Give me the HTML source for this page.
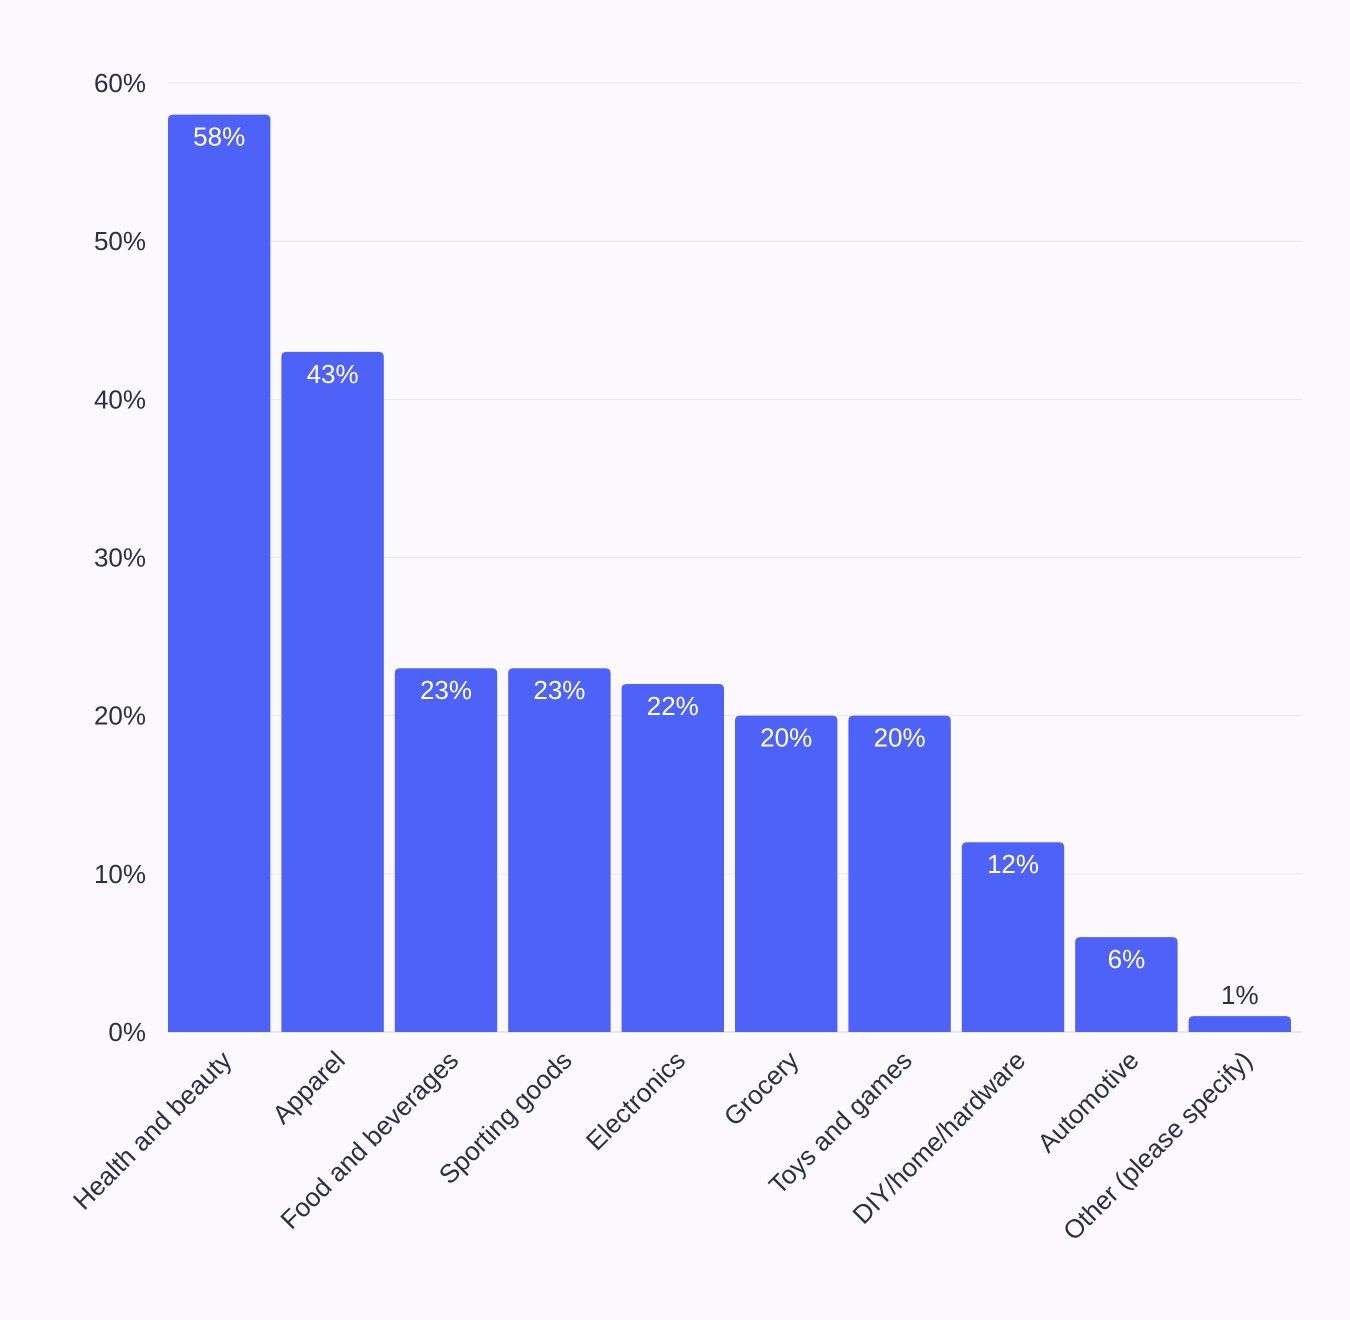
<!DOCTYPE html>
<html><head><meta charset="utf-8"><style>
html,body{margin:0;padding:0;background:#fbf8fe;}
svg{display:block;font-family:"Liberation Sans",sans-serif;}
</style></head><body>
<svg id="chart" width="1350" height="1320" viewBox="0 0 1350 1320">
<rect width="1350" height="1320" fill="#fbf8fe"/>
<g id="grid"></g><g id="bars"></g><g id="labels"></g>
</svg>
<script>
const categories = ["Health and beauty","Apparel","Food and beverages","Sporting goods","Electronics","Grocery","Toys and games","DIY/home/hardware","Automotive","Other (please specify)"];
const values = [58,43,23,23,22,20,20,12,6,1];
const valueLabels = ["58%","43%","23%","23%","22%","20%","20%","12%","6%","1%"];
const ticks = [0,10,20,30,40,50,60];
const tickLabels = ["0%","10%","20%","30%","40%","50%","60%"];

const NS="http://www.w3.org/2000/svg";
const x0=168,x1=1302,yBase=1032,yTop=83,maxV=60;
const y=v=>yBase-(v/maxV)*(yBase-yTop);
const slot=(x1-x0)/categories.length, gap=11, bw=slot-gap;
const xs=i=>x0+i*slot+gap/2-5.5+ (i===0?0:0);
function mk(t,a,p){const e=document.createElementNS(NS,t);for(const k in a)e.setAttribute(k,a[k]);p.appendChild(e);return e;}
const grid=document.getElementById('grid'),bars=document.getElementById('bars'),labels=document.getElementById('labels');
ticks.forEach((t,i)=>{
  const l=mk('line',{x1:x0,x2:x1,y1:y(t),y2:y(t),stroke:t===0?'#d8d6e6':'#e9e6f0','stroke-width':1},grid);
  
  
  const tx=mk('text',{x:146,y:y(t)+9,'text-anchor':'end','font-size':26,fill:'#2b2f45'},grid);
  tx.textContent=tickLabels[i];
  
  
});
categories.forEach((c,i)=>{
  const bx=x0+i*slot, top=y(values[i]), h=yBase-top, r=5;
  const p=mk('path',{d:`M${bx},${yBase}V${top+r}Q${bx},${top} ${bx+r},${top}H${bx+bw-r}Q${bx+bw},${top} ${bx+bw},${top+r}V${yBase}Z`,fill:'#4f62f7'},bars);
  
  
  const cx=bx+bw/2;
  const inside=h>40;
  const vt=mk('text',{x:cx,y:inside?top+31:top-12,'text-anchor':'middle','font-size':26,fill:inside?'#ffffff':'#2b2f45'},labels);
  vt.textContent=valueLabels[i];
  
  
  const ct=mk('text',{x:cx+14,y:1062,'text-anchor':'end','font-size':26,fill:'#2b2f45',transform:`rotate(-45 ${cx+14} 1062)`},labels);
  ct.textContent=c;
  
  
});
</script>
</body></html>
